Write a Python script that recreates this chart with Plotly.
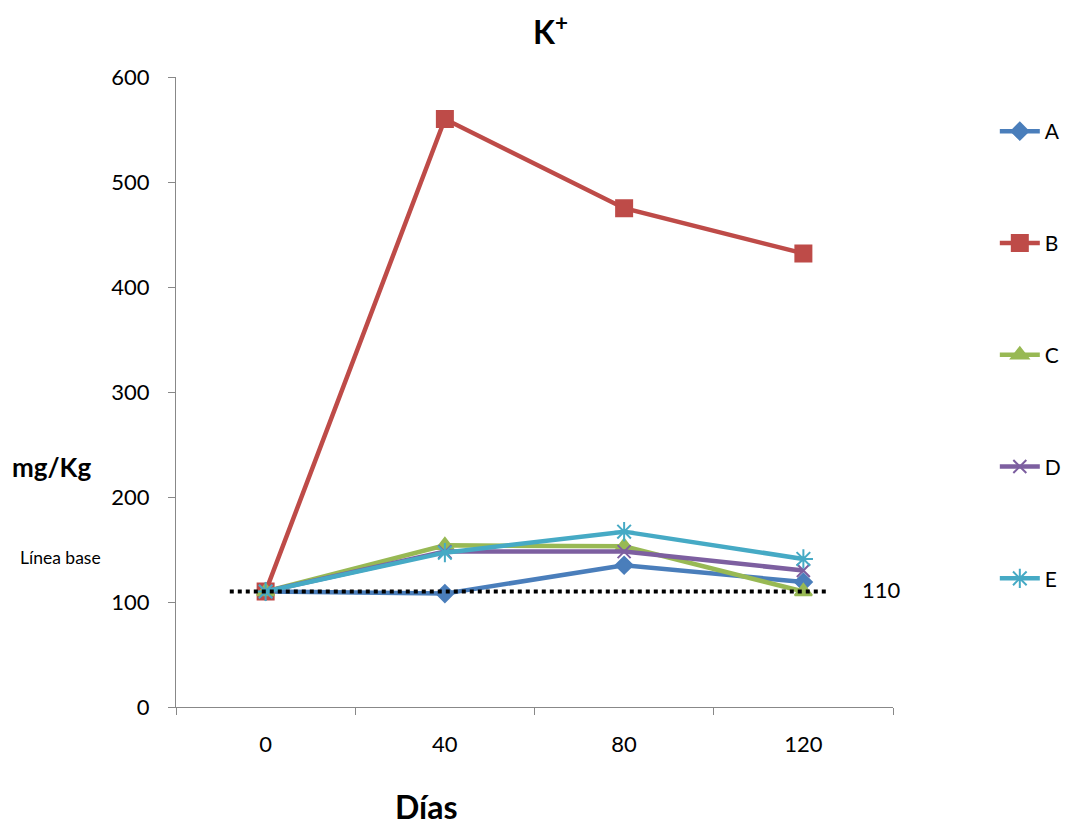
import plotly.graph_objects as go

dias = [0, 40, 80, 120]
series_names = ["A", "B", "C", "D", "E"]
A = [110, 108, 135, 119]
B = [110, 560, 475, 432]
C = [110, 154, 153, 110]
D = [110, 148, 148, 130]
E = [110, 147, 167, 141]
values = [A, B, C, D, E]
linea_base = 110

colors = ["#4A7EBB", "#BE4B48", "#98B954", "#7D5FA0", "#46AAC5"]
symbols = ["diamond", "square", "triangle-up", "x-thin-open", "asterisk-open"]
msizes = [13, 16, 15, 13, 16]

FONT = "Lato"

fig = go.Figure()
for name, vals, col, sym, ms in zip(series_names, values, colors, symbols, msizes):
    fig.add_trace(go.Scatter(
        x=dias, y=vals, name=name, mode="lines+markers",
        line=dict(color=col, width=4.5),
        marker=dict(symbol=sym, size=ms, color=col, line=dict(color=col, width=2)),
        legendgroup=name,
    ))

fig.add_trace(go.Scatter(
    x=[-8, 125], y=[linea_base, linea_base], mode="lines",
    line=dict(color="black", width=4, dash="4px,4px"),
    showlegend=False, hoverinfo="skip",
))

fig.update_layout(
    width=1066, height=825,
    margin=dict(l=176, r=173, t=77, b=118, autoexpand=False),
    paper_bgcolor="white", plot_bgcolor="white",
    font=dict(family=FONT, size=22, color="black"),
    showlegend=True,
    legend=dict(x=1.142, y=0.946, xanchor="left", yanchor="top",
                tracegroupgap=81.5, font=dict(size=21),
                itemwidth=40),
    xaxis=dict(range=[-20, 140], tickvals=dias, ticktext=[str(d) for d in dias],
               showgrid=False, zeroline=False, showline=True, linecolor="#888888", linewidth=1,
               ticks="", ticklabelstandoff=18,
               minor=dict(tickvals=[-20, 20, 60, 100, 140], ticks="outside", ticklen=7,
                          tickcolor="#888888", showgrid=False)),
    yaxis=dict(range=[0, 600], dtick=100, showgrid=False, zeroline=False,
               showline=True, linecolor="#888888", linewidth=1,
               ticks="outside", ticklen=7, tickcolor="#888888", ticklabelstandoff=14),
    annotations=[
        dict(text="K<sup>+</sup>", x=550, y=30, showarrow=False,
             font=dict(size=32, family=FONT, weight="bold")),
        dict(text="<b>mg/Kg</b>", x=10, y=467, xanchor="left", showarrow=False,
             font=dict(size=26, family=FONT)),
        dict(text="<b>Días</b>", x=426, y=806, showarrow=False,
             font=dict(size=32, family=FONT)),
        dict(text="Línea base", x=18, y=557, xanchor="left", showarrow=False,
             font=dict(size=17.5, family=FONT)),
        dict(text="110", x=881, y=589, showarrow=False,
             font=dict(size=22, family=FONT)),
    ],
)

# convert pixel-positioned annotations to paper coords
pw, ph = 1066 - 176 - 173, 825 - 77 - 118
for ann in fig.layout.annotations:
    ann.xref = "paper"; ann.yref = "paper"
    ann.yanchor = "middle"
    if ann.xanchor is None:
        ann.xanchor = "center"
    ann.x = (ann.x - 176) / pw
    ann.y = 1 - (ann.y - 77) / ph

fig.write_html("out.html")
